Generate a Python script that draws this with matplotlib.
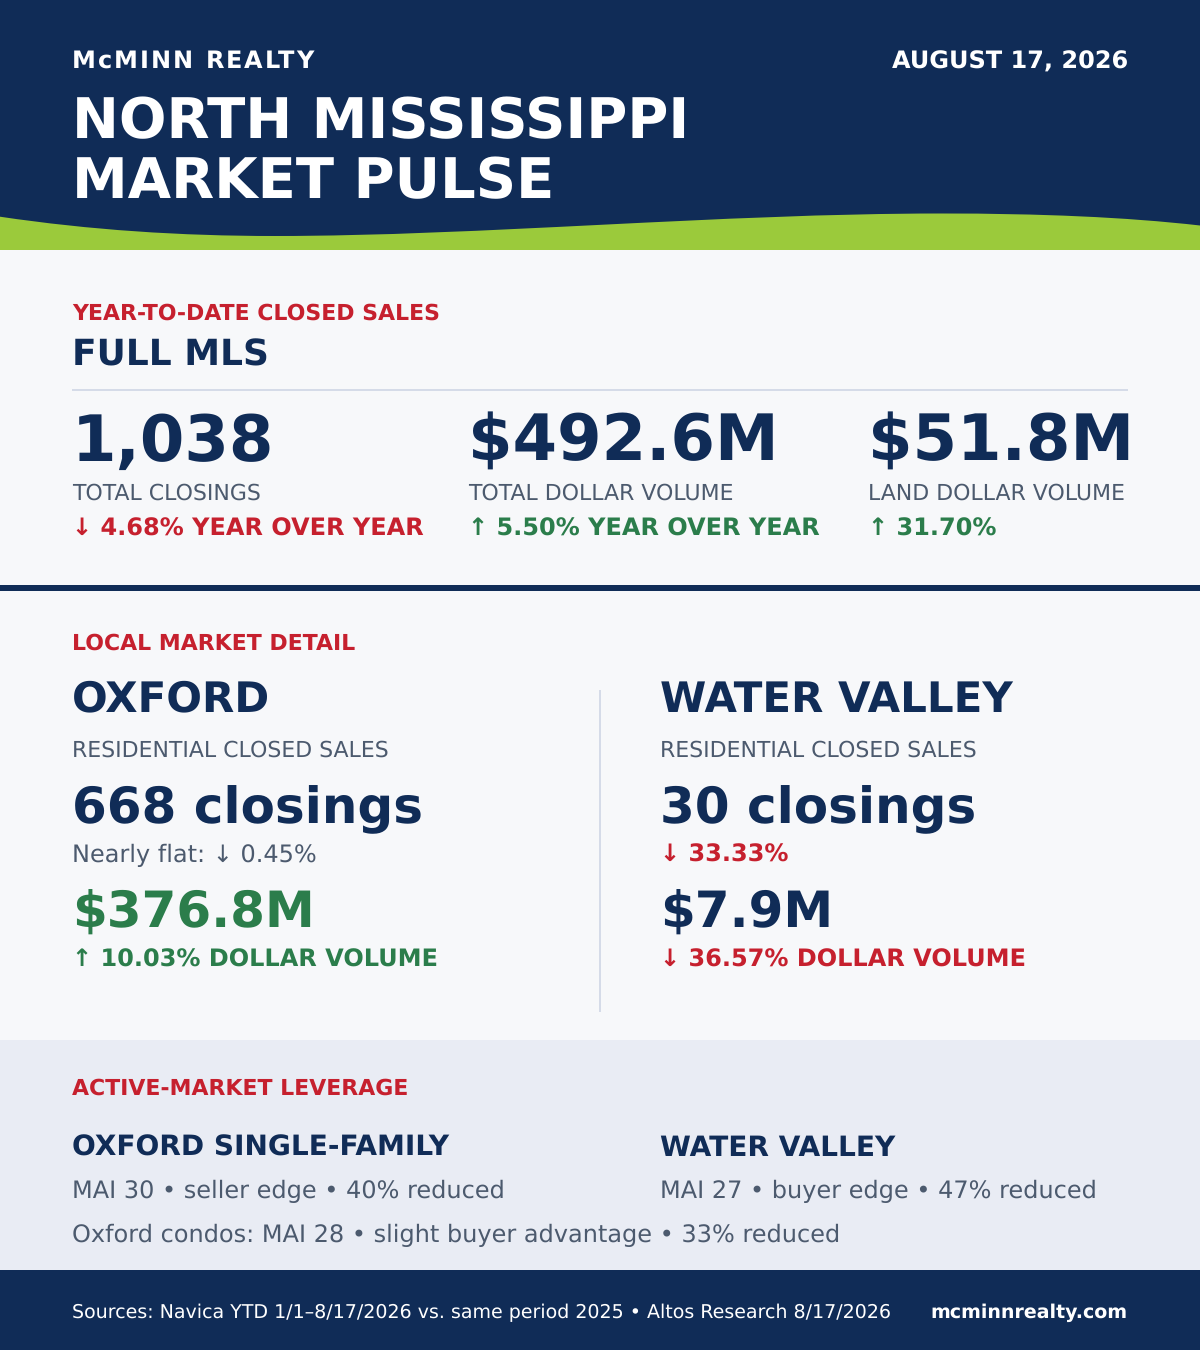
import matplotlib
matplotlib.use("Agg")
import matplotlib.pyplot as plt
from matplotlib.patches import Rectangle, PathPatch
from matplotlib.path import Path
from matplotlib.text import Text

NAVY = "#102c57"; GREEN = "#9bca3b"; PAGE = "#f7f8fa"; BAND = "#e9ecf4"
RED = "#c6202e"; UP = "#2b7d4b"; GREY = "#4c5a6e"; RULE = "#d5dbe8"; WHITE = "#ffffff"

brand = "McMINN REALTY"
report_date = "AUGUST 17, 2026"
title_lines = ["NORTH MISSISSIPPI", "MARKET PULSE"]
ytd_kicker = "YEAR-TO-DATE CLOSED SALES"
ytd_title = "FULL MLS"
ytd_values = ["1,038", "$492.6M", "$51.8M"]
ytd_labels = ["TOTAL CLOSINGS", "TOTAL DOLLAR VOLUME", "LAND DOLLAR VOLUME"]
ytd_changes = ["↓ 4.68% YEAR OVER YEAR", "↑ 5.50% YEAR OVER YEAR", "↑ 31.70%"]
local_kicker = "LOCAL MARKET DETAIL"
towns = ["OXFORD", "WATER VALLEY"]
town_sub = "RESIDENTIAL CLOSED SALES"
town_closings = ["668 closings", "30 closings"]
town_closing_change = ["Nearly flat: ↓ 0.45%", "↓ 33.33%"]
town_volume = ["$376.8M", "$7.9M"]
town_volume_change = ["↑ 10.03% DOLLAR VOLUME", "↓ 36.57% DOLLAR VOLUME"]
active_kicker = "ACTIVE-MARKET LEVERAGE"
active_heads = ["OXFORD SINGLE-FAMILY", "WATER VALLEY"]
active_lines = ["MAI 30 • seller edge • 40% reduced", "MAI 27 • buyer edge • 47% reduced"]
condo_line = "Oxford condos: MAI 28 • slight buyer advantage • 33% reduced"
sources = "Sources: Navica YTD 1/1–8/17/2026 vs. same period 2025 • Altos Research 8/17/2026"
site = "mcminnrealty.com"

plt.rcParams["font.family"] = ["DejaVu Sans"]
plt.rcParams["text.hinting"] = "no_hinting"
fig = plt.figure(figsize=(12, 13.5), dpi=100, facecolor=PAGE)
ax = fig.add_axes([0, 0, 1, 1])
ax.set_xlim(0, 1200); ax.set_ylim(1350, 0); ax.axis("off")


class SpacedText(Text):
    """One text object whose glyphs are drawn with extra tracking (px)."""
    def __init__(self, *a, tracking=0.0, **k):
        super().__init__(*a, **k)
        self.tracking = tracking

    def draw(self, renderer):
        s = self.get_text()
        fp = self.get_fontproperties()
        gc = renderer.new_gc()
        gc.set_foreground(self.get_color())
        gc.set_antialiased(True)
        x0, y0 = self.get_transform().transform(self.get_unitless_position())
        adv = lambda t: renderer.get_text_width_height_descent(t, fp, False)[0] if t else 0.0
        H = renderer.height
        for i, ch in enumerate(s):
            if ch != " ":
                off = adv(s[:i + 1]) - adv(ch) + self.tracking * i
                renderer.draw_text(gc, x0 + off, H - y0, ch, fp, 0)
        gc.restore()


def T(x, y, s, px, color, bold=True, ha="left", tracking=0.0):
    kw = dict(fontsize=px * 0.72, color=color, fontweight="bold" if bold else "normal",
              ha=ha, va="baseline", family="DejaVu Sans")
    if tracking:
        ax.add_artist(SpacedText(x, y, s, tracking=tracking, transform=ax.transData, **kw))
    else:
        ax.text(x, y, s, **kw)


def R(x, y, w, h, c):
    ax.add_patch(Rectangle((x, y), w, h, facecolor=c, edgecolor="none", zorder=0))


# header
R(0, 0, 1200, 250, NAVY)
wave = [(0, 250), (0, 216.7), (90, 230), (180, 236), (275, 236), (480, 236), (720, 213.5),
        (941, 213.5), (1040, 213.5), (1125, 217), (1200, 225.5), (1200, 250), (0, 250)]
codes = [Path.MOVETO, Path.LINETO] + [Path.CURVE4] * 9 + [Path.LINETO, Path.CLOSEPOLY]
ax.add_patch(PathPatch(Path(wave, codes), facecolor=GREEN, edgecolor="none", zorder=1))
T(72, 68, brand, 24, WHITE, tracking=2)
T(1128.5, 69, report_date, 24, WHITE, ha="right")
T(72, 138, title_lines[0], 56, WHITE)
T(72, 198, title_lines[1], 56, WHITE)

# full MLS
T(72, 320, ytd_kicker, 22, RED)
T(72, 365, ytd_title, 36, NAVY)
R(72, 389, 1056, 2, RULE)
xs = [72, 468, 868]
for x, v, l, c in zip(xs, ytd_values, ytd_labels, ytd_changes):
    T(x, 460.5, v, 64, NAVY)
    T(x, 500, l, 22, GREY, bold=False)
    T(x, 536, c, 24, RED if c.startswith("↓") else UP)
R(0, 585, 1200, 6, NAVY)

# local
T(72, 650, local_kicker, 22, RED)
R(599, 690, 2, 322, RULE)
cols = [72, 660]
vol_colors = [UP, NAVY]
close_colors = [(GREY, False), (RED, True)]
for i, x in enumerate(cols):
    T(x, 711.5, towns[i], 42, NAVY)
    T(x, 757, town_sub, 22, GREY, bold=False)
    T(x, 823, town_closings[i], 50, NAVY)
    T(x, 862, town_closing_change[i], 24, close_colors[i][0], bold=close_colors[i][1])
    T(x, 928, town_volume[i], 50, vol_colors[i])
    c = town_volume_change[i]
    T(x, 967, c, 24, RED if c.startswith("↓") else UP)

# active
R(0, 1040, 1200, 230, BAND)
T(72, 1095, active_kicker, 22, RED)
for x, h, l in zip(cols, active_heads, active_lines):
    T(x, 1156, h, 28, NAVY)
    T(x, 1198, l, 24, GREY, bold=False)
T(72, 1242, condo_line, 24, GREY, bold=False)

# footer
R(0, 1270, 1200, 80, NAVY)
T(72, 1318, sources, 19, WHITE, bold=False)
T(1128, 1318, site, 19, WHITE, ha="right")

fig.savefig("out.png", dpi=100, facecolor=PAGE)
